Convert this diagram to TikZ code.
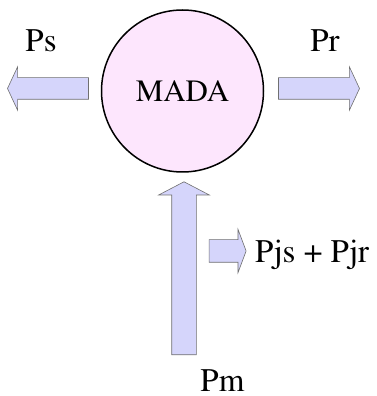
\documentclass[tikz,border=0pt]{standalone}
\usepackage[T1]{fontenc}
\usepackage{mathptmx}
\usepackage{xcolor}
\definecolor{madapink}{HTML}{FDE6FD}
\definecolor{flowblue}{HTML}{D5D5FB}
\definecolor{flowgray}{HTML}{707070}
\usepackage{tikz}
\usetikzlibrary{shapes.arrows}

\begin{document}
\begin{tikzpicture}[x=1pt, y=1pt,
  flow/.style={single arrow, draw=flowgray, fill=flowblue, line width=0.6pt, inner xsep=0pt},
  power/.style={font=\fontsize{33}{36}\selectfont, inner sep=0pt, anchor=base}]
  \useasboundingbox (0,0) rectangle (377,396);
  % machine
  \node[circle, draw, line width=1.5pt, fill=madapink, minimum size=162pt, inner sep=0pt,
        font=\fontsize{31}{34}\selectfont] (mada) at (182.5,305) {MADA};
  % power flows
  \foreach \n/\x/\r in {sarrow/50.5/180, rarrow/316.5/0}
    \node[flow, rotate=\r, minimum height=81pt, inner ysep=10.5pt,
          single arrow head extend=11pt, single arrow tip angle=130] (\n) at (\x,307.5) {};
  \node[flow, rotate=90, minimum height=173pt, inner ysep=12pt,
        single arrow head extend=13pt, single arrow tip angle=125] (marrow) at (184,124.5) {};
  \node[flow, minimum height=37pt, inner ysep=11pt,
        single arrow head extend=10.5pt, single arrow tip angle=139] (jarrow) at (225.5,145) {};
  % labels
  \node[power] (ps) at (41,344) {Ps};
  \node[power] (pr) at (325,344) {Pr};
  \node[power, anchor=base west] (pj) at (255,133) {Pjs + Pjr};
  \node[power] (pm) at (222.5,5) {Pm};
\end{tikzpicture}
\end{document}
